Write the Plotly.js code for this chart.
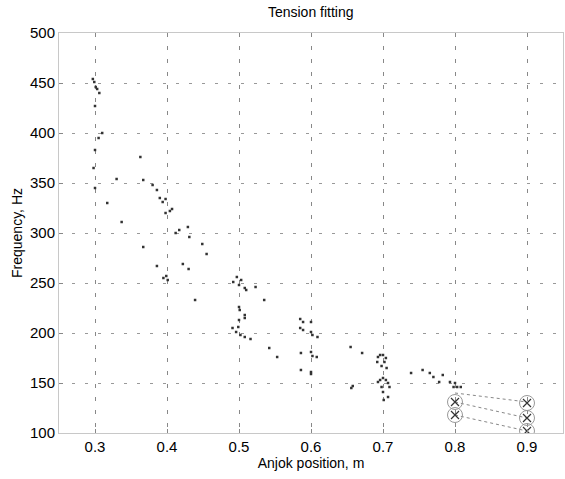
<!DOCTYPE html>
<html>
<head>
<meta charset="utf-8">
<script src="https://cdn.plot.ly/plotly-3.0.1.min.js"></script>
<style>html,body{margin:0;padding:0;background:#fff;}#chart{width:565px;height:479px;}</style>
</head>
<body>
<div id="chart"></div>
<script>
// Tick labels
var xTicks = [0.3, 0.4, 0.5, 0.6, 0.7, 0.8, 0.9];
var yTicks = [100, 150, 200, 250, 300, 350, 400, 450, 500];

// Measured frequencies (anjok position, m / frequency, Hz)
var measX = [0.297,0.299,0.301,0.303,0.306,0.300,0.305,0.310,0.300,0.298,0.300,0.317,0.337,0.330,0.363,0.367,
  0.380,0.386,0.390,0.394,0.398,0.398,0.404,0.407,0.412,0.417,0.429,0.431,
  0.367,0.386,0.395,0.399,0.401,0.422,0.430,0.439,0.449,0.455,
  0.492,0.497,0.500,0.503,0.508,0.510,0.523,0.535,0.500,0.501,0.508,0.508,0.500,0.499,0.491,0.496,0.502,0.508,0.516,0.542,0.553,
  0.585,0.589,0.600,0.585,0.589,0.600,0.602,0.609,0.655,0.671,0.586,0.600,0.602,0.608,0.586,0.600,0.600,0.656,0.658,
  0.693,0.696,0.700,0.704,0.702,0.692,0.698,0.705,0.693,0.696,0.700,0.704,0.707,0.698,0.700,0.701,0.709,0.707,
  0.739,0.755,0.765,0.770,0.783,0.778,0.793,0.800,0.798,0.803,0.808];
var measY = [454,451,446,444,440,427,395,400,383,365,345,330,311,354,376,353,
  348,343,335,331,334,320,322,324,300,303,306,296,
  286,267,255,257,253,269,264,233,289,279,
  251,256,248,253,245,243,246,233,226,223,218,215,213,206,205,201,198,196,194,185,176,
  214,211,211,205,203,201,198,196,186,180,180,181,177,176,163,161,159,145,147,
  176,178,178,175,171,171,167,165,151,153,155,153,150,146,141,133,146,136,
  160,163,160,156,158,151,151,150,146,146,146];

// Fitted tension lines
var fit1X = [0.80, 0.90]; var fit1Y = [140, 131];
var fit2X = [0.80, 0.90]; var fit2Y = [131, 115];
var fit3X = [0.80, 0.90]; var fit3Y = [118, 102];

// Selected points (circles with crosses)
var selX = [0.80, 0.80, 0.90, 0.90, 0.90];
var selY = [131, 118, 130, 115, 102];

var traces = [
  {x: fit1X, y: fit1Y, mode: 'lines', line: {color: '#888', width: 1, dash: 'dot'}, hoverinfo: 'skip'},
  {x: fit2X, y: fit2Y, mode: 'lines', line: {color: '#888', width: 1, dash: 'dot'}, hoverinfo: 'skip'},
  {x: fit3X, y: fit3Y, mode: 'lines', line: {color: '#888', width: 1, dash: 'dot'}, hoverinfo: 'skip'},
  {x: measX, y: measY, mode: 'markers', marker: {color: '#333', size: 2.5, symbol: 'square'}},
  {x: selX, y: selY, mode: 'markers', marker: {color: '#999', size: 15, symbol: 'circle-open', line: {color: '#999', width: 1}}},
  {x: selX, y: selY, mode: 'markers', marker: {color: '#333', size: 8, symbol: 'x-thin-open', line: {color: '#333', width: 1.2}}}
];

var fontFam = '"Liberation Sans", Arial, Helvetica, sans-serif';
var layout = {
  width: 565, height: 479,
  margin: {l: 59, r: 2, t: 33, b: 46},
  paper_bgcolor: '#fff', plot_bgcolor: '#fff',
  showlegend: false,
  font: {family: fontFam, size: 14, color: '#000'},
  title: {text: 'Tension fitting', x: 0.55, xanchor: 'center', y: 0.975, yanchor: 'middle', font: {family: fontFam, size: 14, color: '#000'}},
  xaxis: {
    range: [0.25, 0.95], tickvals: xTicks, ticktext: xTicks.map(function(v){return v.toFixed(1);}),
    tickfont: {family: fontFam, size: 15, color: '#000'},
    showgrid: true, gridcolor: '#888', gridwidth: 1, griddash: '4px,9px',
    showline: true, mirror: true, linecolor: '#c8c8c8', linewidth: 1,
    ticks: 'inside', ticklen: 4, tickcolor: '#888', zeroline: false,
    title: {text: 'Anjok position, m', standoff: 4, font: {family: fontFam, size: 14, color: '#000'}}
  },
  yaxis: {
    range: [100, 500], tickvals: yTicks,
    tickfont: {family: fontFam, size: 15, color: '#000'},
    showgrid: true, gridcolor: '#999', gridwidth: 1, griddash: '3px,10px',
    showline: true, mirror: true, linecolor: '#c8c8c8', linewidth: 1,
    ticks: 'inside', ticklen: 4, tickcolor: '#888', zeroline: false,
    title: {text: 'Frequency, Hz', standoff: 4, font: {family: fontFam, size: 14, color: '#000'}}
  }
};
Plotly.newPlot('chart', traces, layout, {staticPlot: true, displayModeBar: false});
</script>
</body>
</html>
